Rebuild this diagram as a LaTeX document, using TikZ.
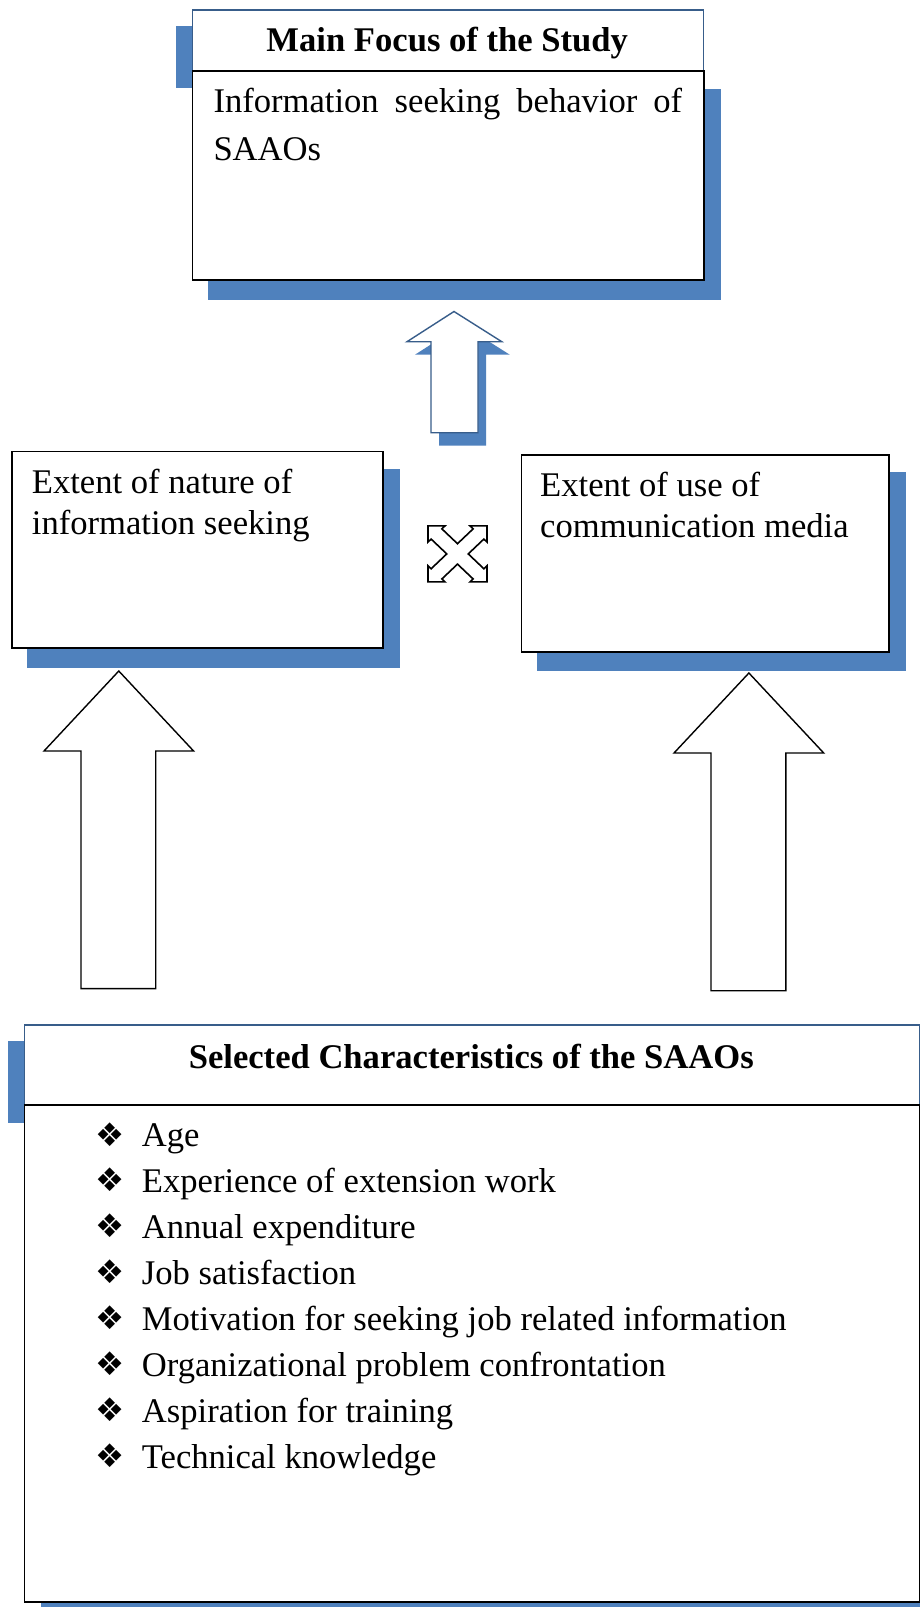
\documentclass[tikz,border=0pt]{standalone}
\usepackage{fontspec}
\setmainfont{Liberation Serif}
\newfontfamily\dejavu{DejaVu Sans}
\usetikzlibrary{calc,backgrounds}
\definecolor{shadowblue}{HTML}{4F81BD}
\definecolor{outlineblue}{HTML}{385D8A}
\tikzset{
  bodybox/.style={draw=black, fill=white, line width=1.8pt, inner sep=0pt, anchor=north west},
  headbox/.style={draw=outlineblue, fill=white, line width=1.5pt, inner sep=0pt, anchor=north west},
  shadowfill/.style={fill=shadowblue, draw=none},
  plaintxt/.style={anchor=base west, inner sep=0pt, font=\fontsize{34.6}{41}\selectfont},
  headtxt/.style={anchor=base, inner sep=0pt, font=\fontsize{34.6}{41}\selectfont\bfseries},
  bulletsym/.style={anchor=base west, inner sep=0pt, font=\dejavu\fontsize{32.5}{34}\selectfont},
  blockarrow/.style={draw=black, fill=white, line width=1.4pt, line join=miter},
  bluearrow/.style={draw=outlineblue, fill=white, line width=1.4pt, line join=miter},
  iconline/.style={draw=black, fill=white, line width=1.6pt, line join=miter}
}
\begin{document}
\begin{tikzpicture}[x=1pt,y=-1pt]
\useasboundingbox (0,0) rectangle (920,1607);

% ---- top box ----
\node[headbox, minimum width=511.2pt, minimum height=60.5pt] (toptitle) at (191.6,9.2) {};
\node[bodybox, minimum width=511.2pt, minimum height=209pt] (topbody) at (191.6,69.7) {};
\node[headtxt] (toptitletext) at (447.2,51.5) {Main Focus of the Study};
\node[plaintxt] (toptext1) at (213.3,112.3) {\makebox[468.7pt][s]{Information seeking behavior of}};
\node[plaintxt] (toptext2) at (213.3,160) {SAAOs};

% ---- middle boxes ----
\node[bodybox, minimum width=371.2pt, minimum height=196.8pt] (leftbox) at (10.8,450.5) {};
\node[plaintxt] (left1) at (31.7,493.3) {Extent of nature of};
\node[plaintxt] (left2) at (31.7,534.3) {information seeking};

\node[bodybox, minimum width=367.7pt, minimum height=197pt] (rightbox) at (520.5,454) {};
\node[plaintxt] (right1) at (540,496.3) {Extent of use of};
\node[plaintxt] (right2) at (540,537.3) {communication media};

% ---- bottom box ----
\node[headbox, minimum width=895.4pt, minimum height=80.4pt] (bottitle) at (23.6,1024) {};
\node[bodybox, minimum width=895.4pt, minimum height=496.6pt] (botbody) at (23.6,1104.4) {};
\node[headtxt] (bottitletext) at (471.3,1068.3) {Selected Characteristics of the SAAOs};
\foreach \t [count=\i from 0] in {Age,Experience of extension work,Annual expenditure,Job satisfaction,Motivation for seeking job related information,Organizational problem confrontation,Aspiration for training,Technical knowledge}{
  \node[bulletsym] (bul\i) at (95.5,{1146+45.95*\i}) {❖};
  \node[plaintxt] (item\i) at (141.7,{1146.7+45.95*\i}) {\t};
}

% ---- arrows ----
\draw[bluearrow] (454,311.5) -- (501.8,341.7) -- (478,341.7) -- (478,432.7) -- (431,432.7) -- (431,341.7) -- (407,341.7) -- cycle;

\draw[blockarrow] (118.8,671) -- (193.6,751) -- (155.7,751) -- (155.7,988.6) -- (81,988.6) -- (81,751) -- (44,751) -- cycle;
\draw[blockarrow] (748.9,673) -- (823.7,753) -- (785.8,753) -- (785.8,990.7) -- (711,990.7) -- (711,753) -- (674,753) -- cycle;

% ---- four-way icon ----
\begin{scope}[shift={(457.5,553.9)}, yscale=0.95]
\draw[iconline] (-29.5,29.5) -- (-12.5,29.5) -- (-15.63,26.37) -- (0,10.75) -- (15.63,26.37) -- (12.5,29.5) -- (29.5,29.5)
  -- (29.5,12.5) -- (26.37,15.63) -- (10.75,0) -- (26.37,-15.63) -- (29.5,-12.5) -- (29.5,-29.5)
  -- (12.5,-29.5) -- (15.63,-26.37) -- (0,-10.75) -- (-15.63,-26.37) -- (-12.5,-29.5) -- (-29.5,-29.5)
  -- (-29.5,-12.5) -- (-26.37,-15.63) -- (-10.75,0) -- (-26.37,15.63) -- (-29.5,12.5) -- cycle;
\end{scope}

% ---- shadows ----
\begin{scope}[on background layer]
\fill[white] (0,0) rectangle (920,1607);
\fill[shadowblue] ($(toptitle.north west)+(-15.5,16.5)$) rectangle ($(toptitle.south east)+(-15.5,16.5)$);
\fill[shadowblue] ($(topbody.north west)+(16.5,19)$) rectangle ($(topbody.south east)+(16.5,19)$);
\fill[shadowblue] ($(leftbox.north west)+(16.3,18.5)$) rectangle ($(leftbox.south east)+(16.3,18.5)$);
\fill[shadowblue] ($(rightbox.north west)+(16,18.3)$) rectangle ($(rightbox.south east)+(16,18.3)$);
\fill[shadowblue] ($(bottitle.north west)+(-15.4,17)$) rectangle ($(bottitle.south east)+(-15.4,17)$);
\fill[shadowblue] ($(botbody.north west)+(17,18)$) rectangle ($(botbody.south east)+(17,18)$);
\begin{scope}[shift={(8,13)}]
\fill[shadowblue] (454,311.5) -- (501.8,341.7) -- (478,341.7) -- (478,432.7) -- (431,432.7) -- (431,341.7) -- (407,341.7) -- cycle;
\end{scope}
\end{scope}
\end{tikzpicture}
\end{document}
